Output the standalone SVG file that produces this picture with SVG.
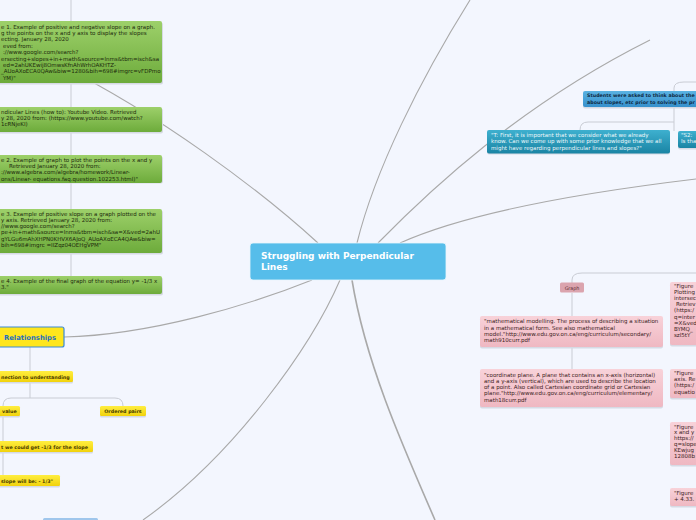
<svg xmlns="http://www.w3.org/2000/svg" width="696" height="520" viewBox="0 0 696 520">
<defs>
<linearGradient id="gGreen" x1="0" y1="0" x2="0" y2="1"><stop offset="0" stop-color="#9dd06a"/><stop offset="1" stop-color="#6dab3b"/></linearGradient>
<linearGradient id="gPink" x1="0" y1="0" x2="0" y2="1"><stop offset="0" stop-color="#f8d2d9"/><stop offset="1" stop-color="#efb8c2"/></linearGradient>
<linearGradient id="gTeal" x1="0" y1="0" x2="0" y2="1"><stop offset="0" stop-color="#3eb0cf"/><stop offset="1" stop-color="#1a84a4"/></linearGradient>
<linearGradient id="gBlue" x1="0" y1="0" x2="0" y2="1"><stop offset="0" stop-color="#5ab2e2"/><stop offset="1" stop-color="#3690cc"/></linearGradient>
<linearGradient id="gYellow" x1="0" y1="0" x2="0" y2="1"><stop offset="0" stop-color="#ffee40"/><stop offset="1" stop-color="#f1d20c"/></linearGradient>
</defs>
<style>
.bg{fill:#f3f6fe}
.c{fill:none;stroke:#a9a9a9;stroke-width:1.1}
.sp{fill:none;stroke:#c9ccd4;stroke-width:1}
.sh{fill:#d6dae4}
.t{font-family:"DejaVu Sans","Verdana",sans-serif;font-size:5.5px}
.tb{font-family:"DejaVu Sans","Verdana",sans-serif;font-size:4.8px;font-weight:bold}
.green{fill:url(#gGreen)}
.pink{fill:url(#gPink)}
.teal{fill:url(#gTeal)}
.blue{fill:url(#gBlue)}
.yel{fill:url(#gYellow)}
.tg{fill:#1c2a0c}
.tp{fill:#3b1c22}
.tw{fill:#eef8fb}
.tn{fill:#0f2a44}
.ty{fill:#4a3c00}
</style>
<rect class="bg" x="0" y="0" width="696" height="520"/>

<g id="connectors">
<path class="c" d="M318,243 C260,190 160,115 60,65"/>
<path class="c" d="M357,243 C375,170 420,80 470,0"/>
<path class="c" d="M378,243 C430,190 520,105 650,40"/>
<path class="c" d="M400,243 C440,225 520,200 696,179"/>
<path class="c" d="M312,280 C250,305 150,335 64,337"/>
<path class="c" d="M340,280 C312,345 235,455 143,520"/>
<path class="c" d="M352,280 C365,360 400,440 435,520" style="stroke-width:1.6"/>
<path class="sp" d="M71,0 L71,277"/>
<path class="sp" d="M572,283 L572,280 Q572,273 582,273 L696,273"/>
<path class="sp" d="M572,293 L572,316 M572,347 L572,369"/>
<path class="sp" d="M674,91 L674,88 Q674,82 684,82 L696,82"/>
<path class="sp" d="M674,107 L674,131 M674,122 L588,122 Q580,122 580,130"/>
<path class="sp" d="M30,347 L30,371 M30,382 L30,398"/>
<path class="sp" d="M3,406 Q3,398 11,398 L115,398 Q123,398 123,406"/>
<path class="sp" d="M3,416 L3,441 M3,452 L3,475"/>
</g>

<g id="center">
<rect x="250" y="243" width="196" height="37" rx="3" fill="#56bdea" stroke="#e9f6fd" stroke-width="0.8"/>
<text x="261" y="259" style="font-family:'DejaVu Sans',Verdana,sans-serif;font-size:9px;font-weight:bold;fill:#ffffff">Struggling with Perpendicular</text>
<text x="261" y="269.5" style="font-family:'DejaVu Sans',Verdana,sans-serif;font-size:9px;font-weight:bold;fill:#ffffff">Lines</text>
</g>

<g id="fig1">
<rect class="sh" x="-5" y="22.5" width="168" height="62" rx="2"/>
<rect class="green" x="-5" y="21" width="167" height="62" rx="2"/>
<text class="t tg" x="1" y="28.5">e 1. Example of positive and negative slope on a graph.</text>
<text class="t tg" x="1" y="34.9">g the points on the x and y axis to display the slopes</text>
<text class="t tg" x="1" y="41.3">ecting.      January 28, 2020</text>
<text class="t tg" x="3" y="47.8">eved from:</text>
<text class="t tg" x="3" y="54.2">://www.google.com/search?</text>
<text class="t tg" x="1" y="60.6">ersecting+slopes+in+math&amp;source=lnms&amp;tbm=isch&amp;sa</text>
<text class="t tg" x="3" y="67">ed=2ahUKEwij8OmwsKfnAhWrhOAKHTZ-</text>
<text class="t tg" x="1" y="73.4">_AUoAXoECA0QAw&amp;biw=1280&amp;bih=698#imgrc=vFDPmo</text>
<text class="t tg" x="3" y="79.8">YM)"</text>
</g>

<g id="video">
<rect class="sh" x="-5" y="108.5" width="168" height="25" rx="2"/>
<rect class="green" x="-5" y="107" width="167" height="25" rx="2"/>
<text class="t tg" x="1" y="113.5">ndicular Lines (how to): Youtube Video. Retrieved</text>
<text class="t tg" x="1" y="119.9">y 28, 2020 from: (https://www.youtube.com/watch?</text>
<text class="t tg" x="1" y="126.3">1cRNjeKI)</text>
</g>

<g id="fig2">
<rect class="sh" x="-5" y="156.5" width="168" height="27" rx="2"/>
<rect class="green" x="-5" y="155" width="167" height="28" rx="2"/>
<text class="t tg" x="1" y="161.8">e 2. Example of graph to plot the points on the x and y</text>
<text class="t tg" x="9" y="168">Retrieved January 28, 2020 from:</text>
<text class="t tg" x="1" y="174.3">://www.algebra.com/algebra/homework/Linear-</text>
<text class="t tg" x="1" y="180.6">ons/Linear- equations.faq.question.102253.html)"</text>
</g>

<g id="fig3">
<rect class="sh" x="-5" y="210.5" width="168" height="44" rx="2"/>
<rect class="green" x="-5" y="209" width="167" height="44" rx="2"/>
<text class="t tg" x="1" y="215.5">e 3. Example of positive slope on a graph plotted on the</text>
<text class="t tg" x="1" y="221.8">y axis. Retrieved January 28, 2020 from:</text>
<text class="t tg" x="1" y="228.1">//www.google.com/search?</text>
<text class="t tg" x="1" y="234.4">pe+in+math&amp;source=lnms&amp;tbm=isch&amp;sa=X&amp;ved=2ahU</text>
<text class="t tg" x="1" y="240.7">gYLGu6mAhXHPN0KHVX6AJoQ_AUoAXoECA4QAw&amp;biw=</text>
<text class="t tg" x="1" y="247">bih=698#imgrc =IIZqz04OEHgVPM"</text>
</g>

<g id="fig4">
<rect class="sh" x="-5" y="277.5" width="168" height="18" rx="2"/>
<rect class="green" x="-5" y="276" width="167" height="18" rx="2"/>
<text class="t tg" x="1" y="282.5">e 4. Example of the final graph of the equation y= -1/3 x</text>
<text class="t tg" x="1" y="288.8">3."</text>
</g>

<g id="relationships">
<rect x="-3" y="327" width="67" height="20" rx="2" fill="#ffe61c" stroke="#3a8ad6" stroke-width="1.2"/>
<text x="4" y="340" style="font-family:'DejaVu Sans',Verdana,sans-serif;font-size:6.8px;font-weight:bold;fill:#1f6fc0">Relationships</text>
</g>

<g id="connection">
<rect class="sh" x="-13" y="372.5" width="86" height="11" rx="1.5"/>
<rect class="yel" x="-13" y="371" width="86" height="11" rx="1.5"/>
<text class="tb ty" x="1" y="378.6">nection to understanding</text>
</g>

<g id="value">
<rect class="sh" x="-14" y="407.5" width="34" height="10" rx="1.5"/>
<rect class="yel" x="-14" y="406" width="34" height="10" rx="1.5"/>
<text class="tb ty" x="2" y="413">value</text>
</g>

<g id="ordered">
<rect class="sh" x="100" y="407.5" width="46" height="10" rx="1.5"/>
<rect class="yel" x="100" y="406" width="46" height="10" rx="1.5"/>
<text class="tb ty" x="123" y="413" text-anchor="middle">Ordered pairs</text>
</g>

<g id="slope13">
<rect class="sh" x="-87" y="442.5" width="180" height="11" rx="1.5"/>
<rect class="yel" x="-87" y="441" width="180" height="11" rx="1.5"/>
<text class="tb ty" x="1" y="448.6">t we could get -1/3 for the slope</text>
</g>

<g id="slopewill">
<rect class="sh" x="-60" y="476.5" width="120" height="11" rx="1.5"/>
<rect class="yel" x="-60" y="475" width="120" height="11" rx="1.5"/>
<text class="tb ty" x="1" y="482.6">slope will be: - 1/3"</text>
</g>

<g id="bottomnode">
<rect x="43" y="518" width="55" height="8" rx="1.5" fill="#9fc6ec"/>
</g>

<g id="students">
<rect class="sh" x="583" y="92.5" width="116" height="16" rx="2"/>
<rect class="blue" x="583" y="91" width="116" height="16" rx="2"/>
<text class="tb tn" x="587" y="97">Students were asked to think about the</text>
<text class="tb tn" x="587" y="103.5">about slopes, etc prior to solving the pr</text>
</g>

<g id="tfirst">
<rect class="sh" x="487" y="131.5" width="183" height="23" rx="2"/>
<rect class="teal" x="487" y="130" width="183" height="23.5" rx="2"/>
<text class="t tw" x="491" y="137">"T: First, it is important that we consider what we already</text>
<text class="t tw" x="491" y="143.4">know. Can we come up with some prior knowledge that we all</text>
<text class="t tw" x="491" y="149.8">might have regarding perpendicular lines and slopes?"</text>
</g>

<g id="s2">
<rect class="sh" x="678" y="132.5" width="22" height="17" rx="2"/>
<rect class="teal" x="678" y="131" width="22" height="17" rx="2"/>
<text class="t tw" x="681" y="137">"S2:</text>
<text class="t tw" x="681" y="143.4">Is tha</text>
</g>

<g id="graph">
<rect x="560" y="282.5" width="24" height="10" rx="1.5" fill="#dba4ae"/>
<text x="572" y="289.5" text-anchor="middle" style="font-family:'DejaVu Sans',Verdana,sans-serif;font-size:4.8px;fill:#5a2a32">Graph</text>
</g>

<g id="modelling">
<rect class="sh" x="480" y="317.5" width="183" height="31" rx="2"/>
<rect class="pink" x="480" y="316" width="183" height="31" rx="2"/>
<text class="t tp" x="484" y="323.2">"mathematical modelling. The process of describing a situation</text>
<text class="t tp" x="484" y="329.6">in a mathematical form. See also mathematical</text>
<text class="t tp" x="484" y="336">model."http://www.edu.gov.on.ca/eng/curriculum/secondary/</text>
<text class="t tp" x="484" y="342.4">math910curr.pdf</text>
</g>

<g id="coordinate">
<rect class="sh" x="480" y="370.5" width="183" height="38" rx="2"/>
<rect class="pink" x="480" y="369" width="183" height="38" rx="2"/>
<text class="t tp" x="484" y="376.5">"coordinate plane. A plane that contains an x-axis (horizontal)</text>
<text class="t tp" x="484" y="382.8">and a y-axis (vertical), which are used to describe the location</text>
<text class="t tp" x="484" y="389.1">of a point. Also called Cartesian coordinate grid or Cartesian</text>
<text class="t tp" x="484" y="395.4">plane."http://www.edu.gov.on.ca/eng/curriculum/elementary/</text>
<text class="t tp" x="484" y="401.7">math18curr.pdf</text>
</g>

<g id="pfig1">
<rect class="sh" x="670" y="283.5" width="30" height="63" rx="2"/>
<rect class="pink" x="670" y="282" width="30" height="63" rx="2"/>
<text class="t tp" x="674" y="287.5">"Figure</text>
<text class="t tp" x="674" y="293.7">Plotting</text>
<text class="t tp" x="674" y="299.9">intersec</text>
<text class="t tp" x="676" y="306.1">Retriev</text>
<text class="t tp" x="674" y="312.3">(https:/</text>
<text class="t tp" x="674" y="318.5">q=inter</text>
<text class="t tp" x="674" y="324.7">=X&amp;ved</text>
<text class="t tp" x="674" y="330.9">BYMQ_</text>
<text class="t tp" x="674" y="337.1">szl5tY</text>
</g>

<g id="pfig2">
<rect class="sh" x="670" y="370.5" width="30" height="29" rx="2"/>
<rect class="pink" x="670" y="369" width="30" height="29" rx="2"/>
<text class="t tp" x="674" y="374.8">"Figure</text>
<text class="t tp" x="674" y="381.1">axis. Re</text>
<text class="t tp" x="674" y="387.4">(https:/</text>
<text class="t tp" x="674" y="393.7">equatio</text>
</g>

<g id="pfig3">
<rect class="sh" x="670" y="423.5" width="30" height="43" rx="2"/>
<rect class="pink" x="670" y="422" width="30" height="43" rx="2"/>
<text class="t tp" x="674" y="428.5">"Figure</text>
<text class="t tp" x="674" y="434.3">x and y</text>
<text class="t tp" x="674" y="440.1">https://</text>
<text class="t tp" x="674" y="445.9">q=slope</text>
<text class="t tp" x="674" y="451.7">KEwjug</text>
<text class="t tp" x="674" y="457.5">12808b</text>
</g>

<g id="pfig4">
<rect class="sh" x="670" y="489.5" width="30" height="18" rx="2"/>
<rect class="pink" x="670" y="488" width="30" height="18" rx="2"/>
<text class="t tp" x="674" y="494.5">"Figure</text>
<text class="t tp" x="674" y="500.8">+ 4.33.</text>
</g>
</svg>
